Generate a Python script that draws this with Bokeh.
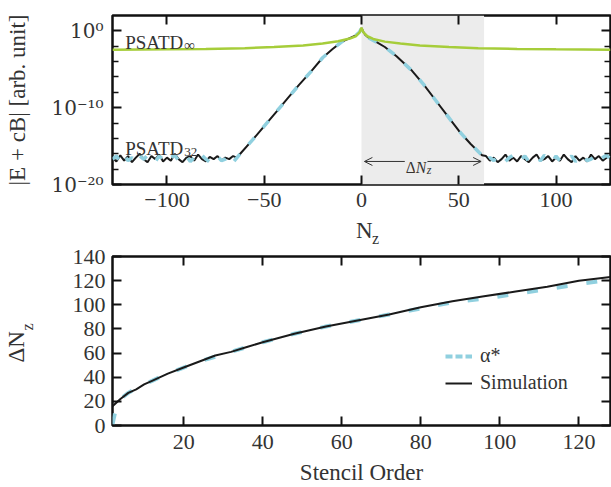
import math
from bokeh.plotting import figure
from bokeh.layouts import column
from bokeh.models import (FixedTicker, Label, BoxAnnotation, Arrow, OpenHead, LinearAxis,
                          LogAxis, Range1d, Legend, LegendItem, CustomJSTickFormatter)
from bokeh.embed import file_html
from bokeh.resources import INLINE

# ---------------- data ----------------
# top panel: log10 of |E + cB| versus N_z
inf_x = [-128, -100, -80, -60, -45, -30, -20, -12, -6, -3, -1, 0, 1, 3, 6, 12, 20, 30, 45, 60, 80, 100, 128]
inf_log = [-2.45, -2.4, -2.35, -2.25, -2.1, -1.9, -1.65, -1.35, -1.0, -0.7, -0.2, 0.4,
           -0.2, -0.7, -1.05, -1.4, -1.65, -1.9, -2.1, -2.25, -2.35, -2.4, -2.45]

floor_left_x = [-128, -126, -124, -122, -120, -118, -116, -114, -112, -110, -108, -106, -104, -102, -100,
                -98, -96, -94, -92, -90, -88, -86, -84, -82, -80, -78, -76, -74, -72, -70, -68, -66, -64]
floor_right_x = [64, 66, 68, 70, 72, 74, 76, 78, 80, 82, 84, 86, 88, 90, 92, 94, 96, 98, 100,
                 102, 104, 106, 108, 110, 112, 114, 116, 118, 120, 122, 124, 126, 128]
ramp_x = [-62, -56, -50, -44, -38, -32, -26, -20, -15, -10, -6, -3, -1, 0, 1, 2, 4, 8, 12, 18, 26,
          32, 38, 44, 50, 56, 60, 62]
ramp_log = [-15.9, -14.2, -12.4, -10.6, -8.8, -7.0, -5.3, -3.5, -2.4, -1.4, -0.95, -0.6, -0.15, 0.35,
            -0.15, -0.55, -0.95, -1.5, -2.1, -3.3, -5.2, -7.0, -9.0, -11.0, -13.0, -14.7, -15.7, -16.2]

sim32_left_log = [-16.5, -17.0, -16.2, -16.9, -16.3, -17.1, -16.5, -16.0, -16.7, -17.1, -16.3, -16.7,
                  -16.1, -17.0, -16.5, -16.9, -16.0, -16.7, -17.1, -16.5, -16.3, -16.9, -16.1, -16.7,
                  -17.0, -16.4, -16.7, -16.3, -16.9, -16.5, -16.7, -16.3, -16.5]
sim32_right_log = [-16.3, -16.9, -16.5, -17.1, -16.7, -16.1, -16.9, -16.5, -17.0, -16.3, -16.7, -17.1,
                   -16.5, -16.1, -16.9, -16.7, -16.3, -17.0, -16.5, -16.9, -16.1, -16.7, -17.1, -16.3,
                   -16.9, -16.5, -17.0, -16.1, -16.7, -16.3, -16.9, -16.5, -16.3]
th32_left_log = [-16.7, -16.3, -17.0, -16.2, -16.9, -16.5, -17.1, -16.3, -16.7, -16.2, -16.9, -17.0,
                 -16.3, -16.7, -17.1, -16.5, -16.2, -16.9, -16.7, -16.3, -17.0, -16.5, -16.9, -16.2,
                 -16.7, -17.1, -16.5, -16.3, -16.9, -16.7, -16.3, -17.1, -16.5]
th32_right_log = [-17.0, -16.5, -16.9, -16.3, -16.7, -17.0, -16.5, -16.2, -16.9, -16.7, -16.3, -17.0,
                  -16.7, -16.5, -16.9, -16.2, -16.7, -17.0, -16.3, -16.9, -16.5, -16.7, -16.3, -17.0,
                  -16.5, -16.2, -16.9, -16.7, -16.3, -16.9, -16.5, -16.2, -16.7]
delta_nz = 63

x1_ticks = [-100, -50, 0, 50, 100]
x1_labels = ["\u2212100", "\u221250", "0", "50", "100"]
y1_ticks = [1e-20, 1e-10, 1e0]
y1_labels = ["10\u207b\u00b2\u2070", "10\u207b\u00b9\u2070", "10\u2070"]
y1_minor = [1e-18, 1e-16, 1e-14, 1e-12, 1e-8, 1e-6, 1e-4, 1e-2]

# bottom panel: Delta N_z versus stencil order
sim_order = [2, 4, 6, 8, 10, 12, 16, 20, 24, 28, 32, 36, 40, 48, 56, 64, 72, 80, 88, 96, 104, 112, 120, 128]
sim_dnz = [16, 22, 27, 30, 34, 37, 43, 48, 53, 58, 61, 65, 69, 76, 82, 87, 92, 98, 103, 107, 111, 115, 120, 123]
alpha_order = [2, 3, 4, 6, 8, 10, 12, 16, 20, 24, 28, 32, 40, 48, 56, 64, 72, 80, 88, 96, 104, 112, 120, 128]
alpha_dnz = [1, 16, 22, 27, 31, 34, 37, 43, 48, 53, 57, 61, 69, 76, 82, 87, 92, 97, 102, 105, 109, 113, 117, 121]
x2_ticks = [20, 40, 60, 80, 100, 120]
x2_labels = ["20", "40", "60", "80", "100", "120"]
y2_ticks = [0, 20, 40, 60, 80, 100, 120, 140]
y2_labels = ["0", "20", "40", "60", "80", "100", "120", "140"]

# ---------------- style ----------------
FONT = "Liberation Serif"
SUPFONT = "DejaVu Serif"
TXT = "#333333"
GREEN = "#a6cd3a"
BLUE = "#90d0df"
BLACK = "#1a1a1a"
BAND = "#ececec"
TICKFS = "22px"
AXFS = "23px"
NB = "\u00a0"

def fmt(vals, labs):
    return CustomJSTickFormatter(args=dict(vals=vals, labs=labs), code="""
        for (let i = 0; i < vals.length; i++) {
            if (Math.abs(vals[i] - tick) <= 1e-6 * Math.max(Math.abs(vals[i]), 1e-300)) return labs[i];
        }
        return '';
    """)

def style_axis(ax, ticker, labels=None, standoff=8):
    ax.ticker = ticker
    ax.axis_line_color = None
    ax.major_tick_in = 9
    ax.major_tick_out = 0
    ax.minor_tick_in = 6
    ax.minor_tick_out = 0
    ax.major_tick_line_color = "#111111"
    ax.major_tick_line_width = 2
    ax.minor_tick_line_color = "#111111"
    ax.minor_tick_line_width = 1.5
    ax.major_label_text_font = FONT
    ax.major_label_text_font_size = TICKFS
    ax.major_label_text_color = TXT
    ax.axis_label_text_font = FONT
    ax.axis_label_text_font_style = "normal"
    ax.axis_label_text_color = TXT
    ax.axis_label_text_font_size = AXFS
    if labels is None:
        ax.formatter = CustomJSTickFormatter(code="return '';")
        ax.major_label_standoff = 0
    else:
        ax.formatter = fmt(ticker.ticks, labels)
        ax.major_label_standoff = standoff

def label_axis(p, place, text, size, standoff):
    ax = LinearAxis(ticker=FixedTicker(ticks=[], minor_ticks=[]), axis_line_color=None,
                    major_tick_line_color=None, minor_tick_line_color=None,
                    major_label_standoff=0, major_tick_out=0, minor_tick_out=0,
                    axis_label=text, axis_label_standoff=standoff,
                    axis_label_text_font=FONT, axis_label_text_font_style="normal",
                    axis_label_text_font_size=size, axis_label_text_color=TXT)
    ax.formatter = CustomJSTickFormatter(code="return '';")
    p.add_layout(ax, place)
    return ax

def base_fig(height, xr, yr, ytype, top, bottom):
    p = figure(width=611, height=height, x_range=xr, y_range=yr, y_axis_type=ytype,
               output_backend="svg", toolbar_location=None,
               min_border_left=107, min_border_right=1, min_border_top=top, min_border_bottom=bottom)
    p.xgrid.visible = False
    p.ygrid.visible = False
    p.outline_line_color = "#111111"
    p.outline_line_width = 2.5
    p.background_fill_color = "white"
    p.border_fill_color = "white"
    return p

# ---------------- top figure ----------------
p1 = base_fig(214, Range1d(-128, 128), Range1d(1e-20, 1e2), "log", 15, 30)
xt1 = FixedTicker(ticks=x1_ticks, minor_ticks=[])
yt1 = FixedTicker(ticks=y1_ticks, minor_ticks=y1_minor)
style_axis(p1.xaxis[0], xt1, x1_labels, standoff=8)
style_axis(p1.yaxis[0], yt1, y1_labels, standoff=9)
p1.yaxis[0].major_label_text_font = SUPFONT
p1.yaxis[0].major_label_text_font_size = "20px"
p1.yaxis[0].axis_label = "|E + cB| [arb. unit]"
p1.yaxis[0].axis_label_standoff = 18
ax_top = LinearAxis()
style_axis(ax_top, FixedTicker(ticks=x1_ticks, minor_ticks=[]))
p1.add_layout(ax_top, "above")
ax_right = LogAxis()
style_axis(ax_right, FixedTicker(ticks=y1_ticks, minor_ticks=y1_minor))
p1.add_layout(ax_right, "right")

p1.add_layout(BoxAnnotation(left=0, right=delta_nz, fill_color=BAND, fill_alpha=1.0,
                            line_color=None, level="underlay"))

sim_x = floor_left_x + ramp_x + floor_right_x
sim_y = [10 ** v for v in (sim32_left_log + ramp_log + sim32_right_log)]
th_y = [10 ** v for v in (th32_left_log + ramp_log + th32_right_log)]
p1.line(sim_x, sim_y, line_color=BLACK, line_width=2)
p1.line(sim_x, th_y, line_color=BLUE, line_width=3.5, line_dash="9 13")
p1.line(inf_x, [10 ** v for v in inf_log], line_color=GREEN, line_width=2.5)

for lvl, sub, sfs in [(-1.47, "\u221e", "15px"), (-15.35, "32", "13px")]:
    p1.add_layout(Label(x=-121.5, y=10 ** lvl, text="PSATD", text_font=FONT, text_font_size="19px",
                        text_color=TXT, text_baseline="alphabetic"))
    p1.add_layout(Label(x=-121.5, y=10 ** lvl, x_offset=59, y_offset=-3, text=sub, text_font=FONT,
                        text_font_size=sfs, text_color=TXT, text_baseline="alphabetic"))

arrow_level = 1e-17
pad = 1.5
p1.add_layout(Arrow(start=OpenHead(size=8, line_width=1, line_color=TXT),
                    end=OpenHead(size=8, line_width=1, line_color=TXT),
                    x_start=pad, y_start=arrow_level, x_end=delta_nz - pad, y_end=arrow_level,
                    line_color=TXT, line_width=1))
for txt, xo, yo, fs, st in [("\u0394", -18, -6, "16px", "normal"), ("N", -8, -6, "16px", "italic"),
                            ("z", 3, -9, "12px", "italic")]:
    p1.add_layout(Label(x=delta_nz / 2, y=arrow_level, x_offset=xo, y_offset=yo, text=txt,
                        text_font=FONT, text_font_size=fs, text_font_style=st, text_color=TXT,
                        text_baseline="alphabetic", background_fill_color=BAND, padding=1))

# ---------------- bottom figure ----------------
p2 = base_fig(273, Range1d(2, 128), Range1d(0, 140), "linear", 42, 62)
xt2 = FixedTicker(ticks=x2_ticks, minor_ticks=[])
yt2 = FixedTicker(ticks=y2_ticks, minor_ticks=[])
style_axis(p2.xaxis[0], xt2, x2_labels, standoff=9)
style_axis(p2.yaxis[0], yt2, y2_labels, standoff=7)
p2.xaxis[0].axis_label = "Stencil Order"
p2.xaxis[0].axis_label_standoff = 8
p2.yaxis[0].axis_label = NB * 7 + "z"
p2.yaxis[0].axis_label_text_font_size = "16px"
p2.yaxis[0].axis_label_standoff = 34
label_axis(p2, "left", "\u0394N" + NB * 2, AXFS, -13)
ax_top2 = LinearAxis()
style_axis(ax_top2, FixedTicker(ticks=x2_ticks, minor_ticks=[]))
p2.add_layout(ax_top2, "above")
# x-axis label of the top panel (N with subscript z), placed in the gap between the panels
label_axis(p2, "above", NB * 7 + "z", "16px", 10)
label_axis(p2, "above", NB + "N", AXFS, -16)
ax_right2 = LinearAxis()
style_axis(ax_right2, FixedTicker(ticks=y2_ticks, minor_ticks=[]))
p2.add_layout(ax_right2, "right")

r_alpha = p2.line(alpha_order, alpha_dnz, line_color=BLUE, line_width=4, line_dash="11 19")
r_sim = p2.line(sim_order, sim_dnz, line_color=BLACK, line_width=2)
r_alpha_leg = p2.line(x=[float("nan")], y=[float("nan")], line_color=BLUE, line_width=4, line_dash="7 3")

legend = Legend(items=[LegendItem(label="\u03b1*", renderers=[r_alpha_leg]),
                       LegendItem(label="Simulation", renderers=[r_sim])],
                location=(333, 31), border_line_color=None, background_fill_alpha=0,
                label_text_font=FONT, label_text_font_size="20px", label_text_color=TXT,
                glyph_width=27, glyph_height=20, label_height=20, label_standoff=8, spacing=4,
                padding=0, margin=0)
p2.add_layout(legend)

layout = column(p1, p2, spacing=0)
open("out.html", "w").write(file_html(layout, INLINE))
